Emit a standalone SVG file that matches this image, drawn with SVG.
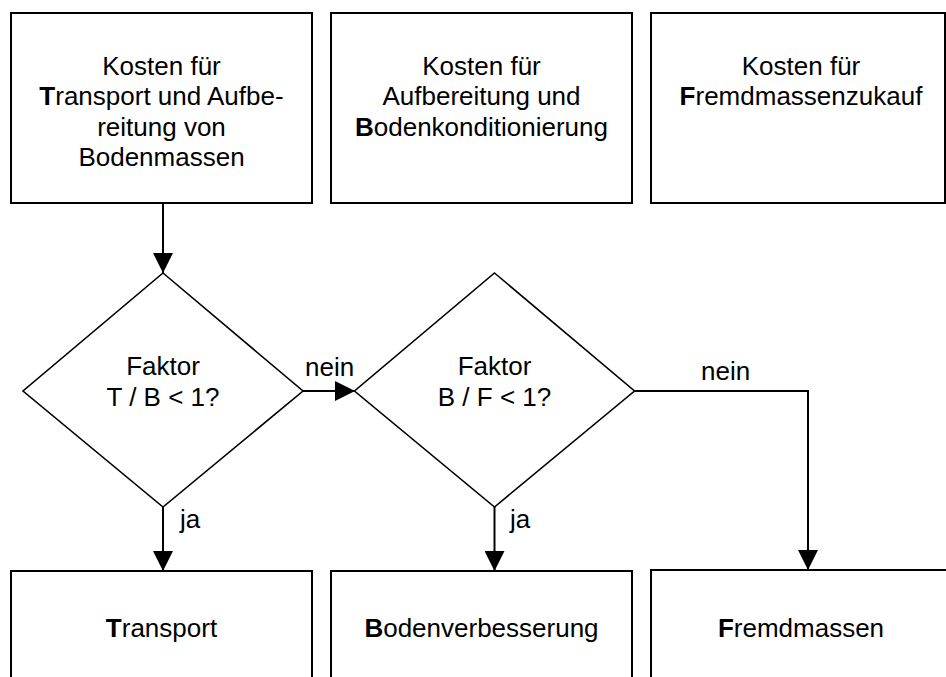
<svg xmlns="http://www.w3.org/2000/svg" width="946" height="677" viewBox="0 0 946 677">
  <style>
    .box { fill: #ffffff; stroke: #000000; stroke-width: 2; }
    .dia { fill: #ffffff; stroke: #000000; stroke-width: 1.6; }
    .lbl { font-family: "Liberation Sans", Arial, sans-serif; font-size: 26px; fill: #000000; text-anchor: middle; }
    .tag { font-family: "Liberation Sans", Arial, sans-serif; font-size: 26px; fill: #000000; }
    .b { font-weight: bold; }
    .edge { fill: none; stroke: #000000; stroke-width: 2; }
  </style>
  <defs>
    <marker id="arrow" markerUnits="userSpaceOnUse" markerWidth="20" markerHeight="20" refX="20" refY="10" orient="auto" viewBox="0 0 20 20">
      <path d="M0,0 L20,10 L0,20 Z" fill="#000000"/>
    </marker>
  </defs>
  <rect width="946" height="677" fill="#ffffff"/>

  <!-- cost inputs -->
  <g id="kosten-transport">
    <rect class="box" x="11" y="13" width="301" height="190"/>
    <text class="lbl" x="161.5" y="74.5">Kosten für</text>
    <text class="lbl" x="161.5" y="105"><tspan class="b">T</tspan>ransport und Aufbe-</text>
    <text class="lbl" x="161.5" y="135.5">reitung von</text>
    <text class="lbl" x="161.5" y="166">Bodenmassen</text>
  </g>
  <g id="kosten-boden">
    <rect class="box" x="331" y="13" width="301" height="190"/>
    <text class="lbl" x="481.5" y="74.5">Kosten für</text>
    <text class="lbl" x="481.5" y="105">Aufbereitung und</text>
    <text class="lbl" x="481.5" y="135.5"><tspan class="b">B</tspan>odenkonditionierung</text>
  </g>
  <g id="kosten-fremd">
    <rect class="box" x="651" y="13" width="294" height="190"/>
    <text class="lbl" x="801" y="74.5">Kosten für</text>
    <text class="lbl" x="801" y="105"><tspan class="b">F</tspan>remdmassenzukauf</text>
  </g>

  <!-- decisions -->
  <g id="faktor-tb">
    <polygon class="dia" points="163,273 303,391 163,507 23,391"/>
    <text class="lbl" x="163" y="375">Faktor</text>
    <text class="lbl" x="163" y="405.5">T / B &lt; 1?</text>
  </g>
  <g id="faktor-bf">
    <polygon class="dia" points="494.5,273 634.5,391 494.5,507 354.5,391"/>
    <text class="lbl" x="494.5" y="375">Faktor</text>
    <text class="lbl" x="494.5" y="405.5">B / F &lt; 1?</text>
  </g>

  <!-- outcomes -->
  <g id="transport">
    <rect class="box" x="11" y="571" width="301" height="130"/>
    <text class="lbl" x="161.5" y="637"><tspan class="b">T</tspan>ransport</text>
  </g>
  <g id="bodenverbesserung">
    <rect class="box" x="331" y="571" width="301" height="130"/>
    <text class="lbl" x="481.5" y="637"><tspan class="b">B</tspan>odenverbesserung</text>
  </g>
  <g id="fremdmassen">
    <rect class="box" x="651" y="570" width="310" height="130"/>
    <text class="lbl" x="801" y="637"><tspan class="b">F</tspan>remdmassen</text>
  </g>

  <!-- connectors -->
  <g id="connectors">
    <path class="edge" d="M163,203 V273" marker-end="url(#arrow)"/>
    <path class="edge" d="M303,391 H355" marker-end="url(#arrow)"/>
    <path class="edge" d="M163,507 V571" marker-end="url(#arrow)"/>
    <path class="edge" d="M494.5,507 V571" marker-end="url(#arrow)"/>
    <path class="edge" d="M634.5,391 H808 V570" marker-end="url(#arrow)"/>
    <text class="tag" x="305" y="376">nein</text>
    <text class="tag" x="701" y="380">nein</text>
    <text class="tag" x="180" y="528">ja</text>
    <text class="tag" x="510" y="528">ja</text>
  </g>
</svg>
